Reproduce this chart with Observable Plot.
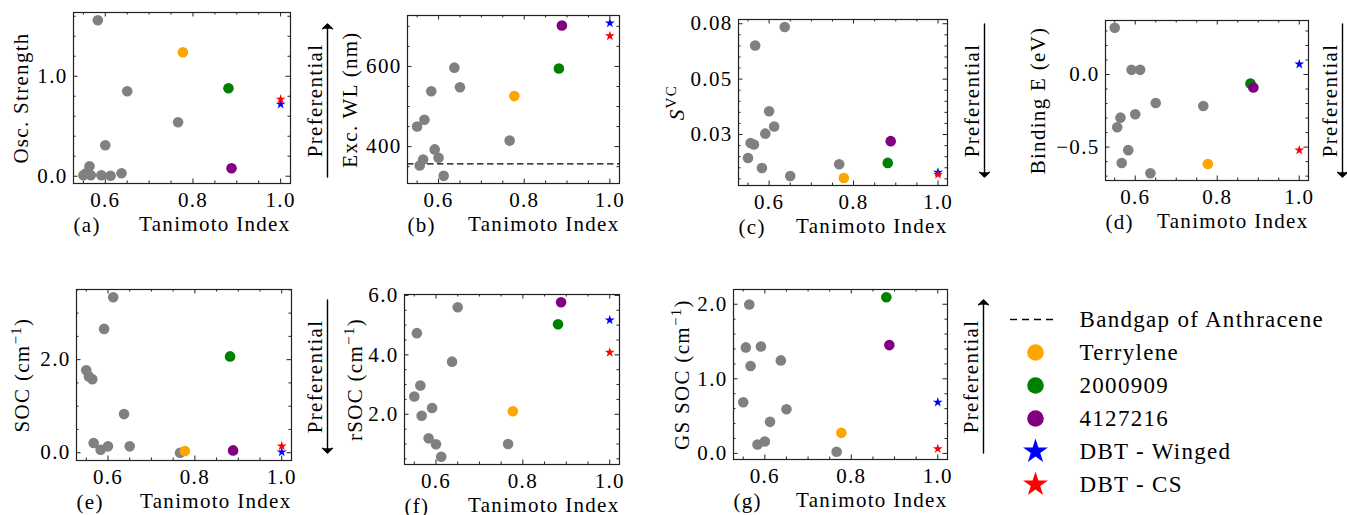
<!DOCTYPE html>
<html>
<head>
<meta charset="utf-8">
<script src="https://cdn.jsdelivr.net/npm/d3@7"></script>
<script src="https://cdn.jsdelivr.net/npm/@observablehq/plot@0.6"></script>
<style>
  html, body { margin: 0; padding: 0; background: #fff; overflow: hidden; }
  #fig { position: relative; width: 1347px; height: 515px; background: #fff; overflow: hidden; }
  #fig svg { position: absolute; background: transparent !important; max-width: none !important; overflow: visible;
    font-family: "Liberation Serif", "DejaVu Serif", serif !important; letter-spacing: 1.3px; color: #000; }
  #fig svg text { font-family: "Liberation Serif", "DejaVu Serif", serif !important; }
  #fig svg.panel { font-size: 21px !important; }
  #fig svg.legend { font-size: 23px !important; }
</style>
</head>
<body>
<div id="fig"></div>
<script>
// ---------------- data ----------------
const grayTanimoto = [0.550, 0.556, 0.564, 0.567, 0.583, 0.591, 0.600, 0.612, 0.637, 0.650, 0.766];
const highlightNames = ["Terrylene", "2000909", "4127216", "DBT - Winged", "DBT - CS"];
const highlightTanimoto = [0.777, 0.881, 0.888, 1.0, 1.0];
const highlightColors = ["orange", "green", "purple", "blue", "red"];
const highlightMarkers = ["circle", "circle", "circle", "star", "star"];

const oscStrengthGray = [0.01, 0.03, 0.10, 0.01, 1.56, 0.01, 0.31, 0.005, 0.03, 0.85, 0.54];
const oscStrengthHighlight = [1.24, 0.88, 0.08, 0.72, 0.77];

const excWLGray = [450, 353, 368, 467, 538, 393, 372, 327, 597, 548, 415];
const excWLHighlight = [526, 595, 702, 708, 676];
const anthraceneBandgapWL = 357;

const svcGray = [0.0144, 0.0212, 0.0205, 0.0652, 0.0099, 0.0254, 0.0355, 0.0286, 0.0735, 0.0063, 0.0116];
const svcHighlight = [0.0054, 0.0122, 0.0220, 0.0079, 0.0069];

const bindingEGray = [0.322, -0.363, -0.297, -0.610, -0.521, 0.032, -0.274, 0.032, -0.680, -0.196, -0.217];
const bindingEHighlight = [-0.616, -0.062, -0.089, 0.071, -0.521];

const socGray = [1.77, 1.64, 1.58, 0.21, 0.065, 2.66, 0.137, 3.34, 0.83, 0.137, 0.0];
const socHighlight = [0.036, 2.07, 0.05, 0.014, 0.144];

const rsocGray = [2.60, 4.73, 2.97, 1.95, 1.19, 2.21, 0.99, 0.57, 3.77, 5.60, 1.00];
const rsocHighlight = [2.10, 5.03, 5.77, 5.17, 4.08];

const gsSocGray = [0.686, 1.421, 1.996, 1.171, 0.120, 1.434, 0.160, 0.423, 1.247, 0.592, 0.022];
const gsSocHighlight = [0.276, 2.094, 1.452, 0.686, 0.062];

const xLabel = "Tanimoto Index";
const xTicks = [0.6, 0.8, 1.0];
const xTickLabels = ["0.6", "0.8", "1.0"];
const bandgapLabel = "Bandgap of Anthracene";
const preferentialLabel = "Preferential";

const panels = [
  {tag: "(a)", ylabel: "Osc. Strength", gray: oscStrengthGray, hi: oscStrengthHighlight,
   yTicks: [0, 1], yTickLabels: ["0.0", "1.0"], yMinor: 0.2, pref: "up"},
  {tag: "(b)", ylabel: "Exc. WL (nm)", gray: excWLGray, hi: excWLHighlight,
   yTicks: [400, 600], yTickLabels: ["400", "600"], yMinor: 50, pref: null, hline: anthraceneBandgapWL},
  {tag: "(c)", ylabel: "*S*^{VC}", gray: svcGray, hi: svcHighlight,
   yTicks: [0.025, 0.05, 0.075], yTickLabels: ["0.03", "0.05", "0.08"], yMinor: 0.005, pref: "down"},
  {tag: "(d)", ylabel: "Binding E (eV)", gray: bindingEGray, hi: bindingEHighlight,
   yTicks: [-0.5, 0], yTickLabels: ["\u22120.5", "0.0"], yMinor: 0.1, pref: "down"},
  {tag: "(e)", ylabel: "SOC (cm^{\u22121})", gray: socGray, hi: socHighlight,
   yTicks: [0, 2], yTickLabels: ["0.0", "2.0"], yMinor: 0.5, pref: "down"},
  {tag: "(f)", ylabel: "rSOC (cm^{\u22121})", gray: rsocGray, hi: rsocHighlight,
   yTicks: [2, 4, 6], yTickLabels: ["2.0", "4.0", "6.0"], yMinor: 0.5, pref: null},
  {tag: "(g)", ylabel: "GS SOC (cm^{\u22121})", gray: gsSocGray, hi: gsSocHighlight,
   yTicks: [0, 1, 2], yTickLabels: ["0.0", "1.0", "2.0"], yMinor: 0.2, pref: "up"}
];

// ---------------- layout (page pixels) ----------------
const layout = [
  {frame: [73, 290, 12, 183],  ylabelOff: 52, prefText: 25, prefArrow: 37, prefCenter: 100},
  {frame: [407, 619, 15, 183], ylabelOff: 57},
  {frame: [738, 947, 19, 185], ylabelOff: 61, prefText: 25, prefArrow: 37, prefCenter: 100},
  {frame: [1105, 1308, 20, 180], ylabelOff: 67, prefText: 22, prefArrow: 34, prefCenter: 100},
  {frame: [76, 291, 289, 460], ylabelOff: 54, prefText: 24, prefArrow: 36, prefCenter: 376},
  {frame: [404, 619, 294, 464], ylabelOff: 49},
  {frame: [733, 947, 289, 459], ylabelOff: 51, prefText: 24, prefArrow: 36, prefCenter: 376}
];

const axisColor = "#222";
const fig = document.getElementById("fig");

function pad([lo, hi]) { const d = (hi - lo) * 0.05; return [lo - d, hi + d]; }
function minorTicks(dom, step, majors) {
  const out = [];
  const k0 = Math.ceil(dom[0] / step - 1e-9), k1 = Math.floor(dom[1] / step + 1e-9);
  for (let k = k0; k <= k1; k++) {
    const v = +(k * step).toFixed(10);
    if (!majors.some(m => Math.abs(m - v) < step * 1e-3)) out.push(v);
  }
  return out;
}
function richText(svg) {
  svg.querySelectorAll("text").forEach(t => {
    const s = t.textContent;
    if (!/\^\{|\*/.test(s)) return;
    const parts = s.split(/(\^\{[^}]*\}|\*[^*]+\*)/);
    t.textContent = "";
    for (const part of parts) {
      if (!part) continue;
      const ts = document.createElementNS("http://www.w3.org/2000/svg", "tspan");
      if (part.startsWith("^{")) {
        ts.textContent = part.slice(2, -1);
        ts.setAttribute("font-size", "72%");
        ts.setAttribute("baseline-shift", "super");
      } else if (part.startsWith("*")) {
        ts.textContent = part.slice(1, -1);
        ts.setAttribute("font-style", "italic");
      } else ts.textContent = part;
      t.appendChild(ts);
    }
  });
}

const xAll = grayTanimoto.concat(highlightTanimoto);
const xDomain = pad(d3.extent(xAll));
const xMinor = minorTicks(xDomain, 0.05, xTicks);

panels.forEach((p, idx) => {
  const lay = layout[idx];
  const [L, R, T, B] = lay.frame;
  const ml = 80, mr = 62, mt = 14, mb = 62;
  const iw = R - L, ih = B - T;
  const W = ml + iw + mr, H = mt + ih + mb;
  const yDomain = pad(d3.extent(p.gray.concat(p.hi)));
  const yMinor = minorTicks(yDomain, p.yMinor, p.yTicks);

  const grayData = grayTanimoto.map((t, i) => ({x: t, y: p.gray[i]}));
  const hiData = highlightNames.map((n, i) => ({name: n, x: highlightTanimoto[i], y: p.hi[i], color: highlightColors[i], marker: highlightMarkers[i]}));

  const majorLen = 4.5, minorLen = 2.5;
  const tickSet = (xs, ys, len) => [
    Plot.ruleX(xs, {x: d => d, insetTop: ih - len, stroke: axisColor}),
    Plot.ruleX(xs, {x: d => d, insetBottom: ih - len, stroke: axisColor}),
    Plot.ruleY(ys, {y: d => d, insetRight: iw - len, stroke: axisColor}),
    Plot.ruleY(ys, {y: d => d, insetLeft: iw - len, stroke: axisColor})
  ];

  const marks = [
    ...tickSet(xTicks, p.yTicks, majorLen),
    ...tickSet(xMinor, yMinor, minorLen),
    Plot.axisX(xTicks, {tickSize: 0, tickPadding: 9, tickFormat: d => xTickLabels[xTicks.indexOf(d)], label: null}),
    Plot.axisY(p.yTicks, {tickSize: 0, tickPadding: 6, tickFormat: d => p.yTickLabels[p.yTicks.indexOf(d)], label: null}),
    Plot.text([p.ylabel], {text: d => d, frameAnchor: "left", dx: -lay.ylabelOff, rotate: -90, textAnchor: "middle", lineAnchor: "middle"}),
    Plot.text([p.tag], {text: d => d, frameAnchor: "bottom-left", dy: 42, textAnchor: "start", lineAnchor: "middle"}),
    Plot.text([xLabel], {text: d => d, frameAnchor: "bottom-right", dy: 41, textAnchor: "end", lineAnchor: "middle"})
  ];
  if (p.hline != null) {
    marks.push(Plot.ruleY([p.hline], {y: d => d, stroke: "#000", strokeWidth: 1.3, strokeDasharray: "6.5,3.5"}));
  }
  marks.push(Plot.dot(grayData, {x: "x", y: "y", r: 5.3, fill: "gray"}));
  hiData.filter(d => d.marker === "circle").forEach(d =>
    marks.push(Plot.dot([d], {x: "x", y: "y", r: 5.3, fill: d.color})));
  hiData.filter(d => d.marker === "star").forEach(d =>
    marks.push(Plot.dot([d], {x: "x", y: "y", r: 3.1, symbol: "star", fill: d.color})));
  marks.push(Plot.frame({stroke: axisColor, strokeWidth: 1.2}));

  if (p.pref) {
    const shift = lay.prefCenter - (T + B) / 2;
    marks.push(Plot.text([preferentialLabel], {text: d => d, frameAnchor: "right", dx: lay.prefText, dy: shift, rotate: -90, textAnchor: "middle", lineAnchor: "middle"}));
    marks.push(Plot.vector([p.pref], {frameAnchor: "right", dx: lay.prefArrow, dy: shift, length: 153,
      rotate: p.pref === "up" ? 0 : 180, anchor: "middle", r: 0.55, stroke: "#000", fill: "#000", strokeWidth: 1.4}));
  }

  const svg = Plot.plot({
    className: "panel",
    width: W, height: H, marginLeft: ml, marginRight: mr, marginTop: mt, marginBottom: mb,
    x: {domain: xDomain},
    y: {domain: yDomain},
    marks
  });
  svg.classList.add("panel");
  richText(svg);
  svg.style.left = (L - ml) + "px";
  svg.style.top = (T - mt) + "px";
  fig.appendChild(svg);
});

// ---------------- legend ----------------
const legendItems = [bandgapLabel, ...highlightNames];
const legendData = highlightNames.map((n, i) => ({name: n, color: highlightColors[i], marker: highlightMarkers[i]}));
const LW = 347, LH = 210;
const legendMarks = [
  Plot.tickY([bandgapLabel], {y: d => d, insetLeft: 10, insetRight: LW - 58, stroke: "#000", strokeWidth: 1.4, strokeDasharray: "7,5"})
];
legendData.forEach(d => {
  if (d.marker === "circle") legendMarks.push(Plot.dot([d], {y: "name", frameAnchor: "left", dx: 35, r: 8.3, fill: d.color}));
  else legendMarks.push(Plot.dot([d], {y: "name", frameAnchor: "left", dx: 35, r: 7.8, symbol: "star", fill: d.color}));
});
legendMarks.push(Plot.text(legendItems, {y: d => d, text: d => d, frameAnchor: "left", dx: 79, textAnchor: "start", lineAnchor: "middle"}));
const legend = Plot.plot({
  width: LW, height: LH, margin: 0,
  y: {type: "point", domain: legendItems, range: [22, 190], padding: 0, axis: null},
  marks: legendMarks
});
legend.classList.add("legend");
legend.style.left = "1000px";
legend.style.top = "295px";
fig.appendChild(legend);
</script>
</body>
</html>
